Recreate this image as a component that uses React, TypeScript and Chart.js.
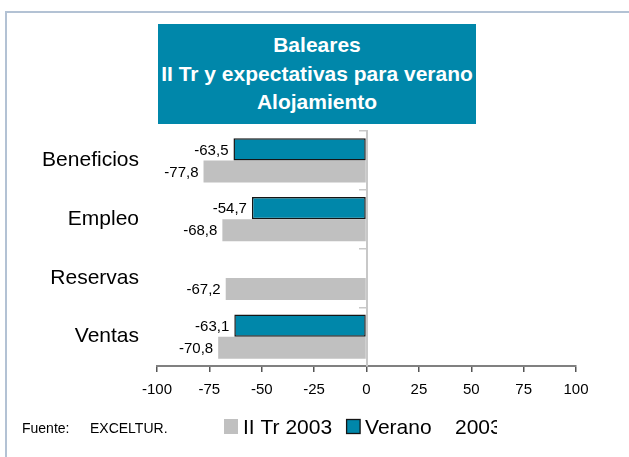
import React, { useEffect, useRef } from 'react';
import { Chart, registerables } from 'chart.js';

Chart.register(...registerables);

// ---- Data ----
const categories = ['Beneficios', 'Empleo', 'Reservas', 'Ventas'];
const veranoValues: (number | null)[] = [-63.5, -54.7, null, -63.1];
const iiTrValues: (number | null)[] = [-77.8, -68.8, -67.2, -70.8];
const seriesNames = ['II Tr 2003', 'Verano    2003'];
const xMin = -100;
const xMax = 100;
const xStep = 25;
const titleLines = ['Baleares', 'II Tr y expectativas para verano', 'Alojamiento'];
const sourceLabel = 'Fuente:';
const sourceName = 'EXCELTUR.';

// ---- Styles ----
const TEAL = '#0087aa';
const GREY = '#c0c0c0';
const FONT = '"Liberation Sans", Arial, Helvetica, sans-serif';

const fmt = (v: number) => v.toFixed(1).replace('.', ',');

const dataLabelPlugin = {
  id: 'dataLabels',
  afterDatasetsDraw(chart: any) {
    const ctx = chart.ctx;
    ctx.save();
    ctx.font = `15px ${FONT}`;
    ctx.fillStyle = '#000';
    ctx.textAlign = 'right';
    ctx.textBaseline = 'middle';
    chart.data.datasets.forEach((ds: any, di: number) => {
      const meta = chart.getDatasetMeta(di);
      meta.data.forEach((el: any, i: number) => {
        const v = ds.data[i];
        if (v === null || v === undefined) return;
        const left = Math.min(el.x, el.base);
        ctx.fillText(fmt(v), left - 5, el.y + 1);
      });
    });
    ctx.restore();
  },
};

const legendPlugin = {
  id: 'customLegend',
  afterDraw(chart: any) {
    const ctx = chart.ctx;
    ctx.save();
    ctx.fillStyle = '#000';
    ctx.textAlign = 'left';
    ctx.textBaseline = 'alphabetic';
    ctx.font = `14px ${FONT}`;
    ctx.fillText(sourceLabel, 22, 432.5);
    ctx.fillText(sourceName, 90, 432.5);

    ctx.beginPath();
    ctx.rect(0, 400, 497, 57);
    ctx.clip();
    ctx.font = `21px ${FONT}`;
    let x = 224;
    const items = chart.data.datasets.slice().reverse();
    for (const ds of items) {
      ctx.fillStyle = ds.backgroundColor;
      ctx.fillRect(x, 419, 14, 15);
      if (ds.borderWidth) {
        ctx.strokeStyle = ds.borderColor;
        ctx.lineWidth = 1.3;
        ctx.strokeRect(x + 0.5, 419.5, 13.5, 14);
      }
      x += 19;
      ctx.fillStyle = '#000';
      ctx.fillText(ds.label, x, 433.5);
      x += ctx.measureText(ds.label).width + 14;
    }
    ctx.restore();
  },
};

export default function App() {
  const canvasRef = useRef<HTMLCanvasElement | null>(null);

  useEffect(() => {
    const canvas = canvasRef.current;
    if (!canvas) return;
    const chart = new Chart(canvas, {
      type: 'bar',
      data: {
        labels: categories,
        datasets: [
          {
            label: seriesNames[1],
            data: veranoValues,
            backgroundColor: TEAL,
            borderColor: '#151515',
            borderWidth: 1.5,
            borderSkipped: false,
            categoryPercentage: 0.75,
            barPercentage: 1,
          },
          {
            label: seriesNames[0],
            data: iiTrValues,
            backgroundColor: GREY,
            borderWidth: 0,
            categoryPercentage: 0.75,
            barPercentage: 1,
          },
        ],
      } as any,
      options: {
        indexAxis: 'y',
        responsive: false,
        animation: false,
        devicePixelRatio: 1,
        layout: { padding: { top: 131, right: 53, bottom: 0, left: 0 } },
        plugins: {
          legend: { display: false },
          title: { display: false },
          tooltip: { enabled: false },
        },
        scales: {
          x: {
            type: 'linear',
            min: xMin,
            max: xMax,
            position: 'bottom',
            afterFit: (scale: any) => {
              scale.height = 91;
            },
            ticks: {
              stepSize: xStep,
              color: '#000',
              padding: 9,
              font: { family: FONT, size: 15 },
            },
            grid: {
              drawOnChartArea: false,
              drawTicks: true,
              tickLength: 6,
              color: '#555',
              lineWidth: 1.5,
            },
            border: { display: true, color: '#808080', width: 2 },
          },
          y: {
            type: 'category',
            position: 'left',
            afterFit: (scale: any) => {
              scale.width = 157;
            },
            ticks: {
              color: '#000',
              padding: 18,
              font: { family: FONT, size: 21 },
            },
            grid: { display: false, drawTicks: false },
            border: { display: false },
          },
          y2: {
            type: 'category',
            position: { x: 0 },
            offset: true,
            ticks: { display: false },
            grid: {
              offset: true,
              drawOnChartArea: false,
              drawTicks: true,
              tickLength: 7,
              color: '#c8c8c8',
              lineWidth: 1.5,
            },
            border: { display: true, color: '#c8c8c8', width: 2 },
          },
        },
      } as any,
      plugins: [dataLabelPlugin, legendPlugin],
    });
    return () => chart.destroy();
  }, []);

  return (
    <div style={{ position: 'fixed', left: 0, top: 0, width: 629, height: 457, background: '#fff', overflow: 'hidden' }}>
      <div
        style={{
          position: 'absolute',
          left: 5,
          top: 11,
          width: 700,
          height: 500,
          borderTop: '2px solid #b3c2d4',
          borderLeft: '2px solid #b3c2d4',
        }}
      />
      <canvas ref={canvasRef} width={629} height={457} style={{ position: 'absolute', left: 0, top: 0, width: 629, height: 457 }} />
      <div
        style={{
          position: 'absolute',
          left: 158,
          top: 24,
          width: 318,
          height: 100,
          background: TEAL,
          color: '#fff',
          fontFamily: FONT,
          fontWeight: 'bold',
          fontSize: 21,
          lineHeight: '28.5px',
          textAlign: 'center',
          paddingTop: 7,
          boxSizing: 'border-box',
          whiteSpace: 'nowrap',
        }}
      >
        {titleLines.map((l, i) => (
          <div key={i}>{l}</div>
        ))}
      </div>
    </div>
  );
}
